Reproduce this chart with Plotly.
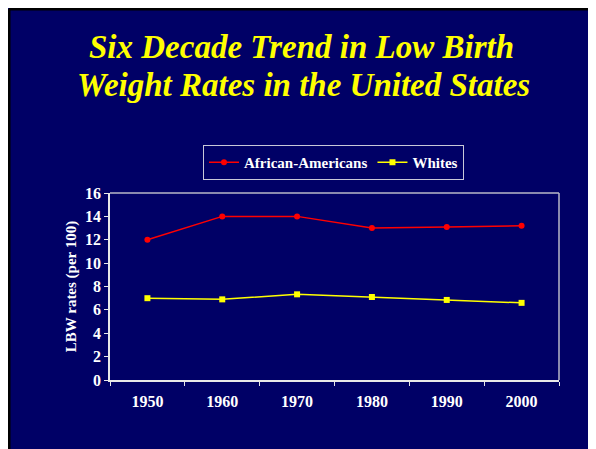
import plotly.graph_objects as go

years = ["1950", "1960", "1970", "1980", "1990", "2000"]
african_americans = [12.0, 14.0, 14.0, 13.0, 13.1, 13.2]
whites = [7.0, 6.9, 7.33, 7.1, 6.85, 6.6]
y_ticks = [0, 2, 4, 6, 8, 10, 12, 14, 16]
title_lines = ["Six Decade Trend in Low Birth", "Weight Rates in the United States"]

NAVY = "#000066"
FONT = "Liberation Serif"

PAGE_W, PAGE_H = 596, 449
OFF = 8  # page body margin
W, H = PAGE_W - OFF, PAGE_H - OFF
L, R, T, B = 110 - OFF, PAGE_W - 559, 193 - OFF, PAGE_H - 380
pw, ph = W - L - R, H - T - B


def px_x(p):  # page pixel -> paper x
    return (p - OFF - L) / pw


def px_y(p):  # page pixel -> paper y
    return (H - B - (p - OFF)) / ph


fig = go.Figure()
fig.add_trace(go.Scatter(
    x=years, y=african_americans, name="African-Americans",
    mode="lines+markers",
    line=dict(color="#ff0000", width=1.5),
    marker=dict(symbol="circle", size=6, color="#ff0000"),
))
fig.add_trace(go.Scatter(
    x=years, y=whites, name="Whites",
    mode="lines+markers",
    line=dict(color="#ffff00", width=1.5),
    marker=dict(symbol="square", size=6, color="#ffff00"),
))

shapes = [
    # black slide edge (top and left only)
    dict(type="line", xref="paper", yref="paper", layer="below",
         x0=px_x(OFF + 1), x1=px_x(700), y0=px_y(OFF + 1), y1=px_y(OFF + 1),
         line=dict(color="black", width=3)),
    dict(type="line", xref="paper", yref="paper", layer="below",
         x0=px_x(OFF + 1), x1=px_x(OFF + 1), y0=px_y(700), y1=px_y(OFF + 1),
         line=dict(color="black", width=3)),
    # top and right plot border
    dict(type="line", xref="paper", yref="paper", x0=0, x1=1, y0=1, y1=1,
         line=dict(color="#b8b8c8", width=1.5)),
    dict(type="line", xref="paper", yref="paper", x0=1, x1=1, y0=0, y1=1,
         line=dict(color="#b8b8c8", width=1.5)),
]

annotations = [
    dict(text="<b><i>%s</i></b>" % title_lines[0], xref="paper", yref="paper",
         x=px_x(301.5), y=px_y(47), xanchor="center", yanchor="middle",
         showarrow=False, font=dict(family=FONT, size=33, color="#ffff00")),
    dict(text="<b><i>%s</i></b>" % title_lines[1], xref="paper", yref="paper",
         x=px_x(303), y=px_y(85), xanchor="center", yanchor="middle",
         showarrow=False, font=dict(family=FONT, size=33, color="#ffff00")),
]

fig.update_layout(
    width=W, height=H,
    margin=dict(l=L, r=R, t=T, b=B, pad=0, autoexpand=False),
    paper_bgcolor=NAVY,
    plot_bgcolor=NAVY,
    shapes=shapes,
    annotations=annotations,
    font=dict(family=FONT, color="white", size=15),
    legend=dict(
        orientation="h",
        x=px_x(333.5), xanchor="center",
        y=px_y(162.5), yanchor="middle",
        bgcolor=NAVY, bordercolor="#c8c8d8", borderwidth=1,
        font=dict(family=FONT, size=15, color="white", weight="bold"),
        itemwidth=30,
    ),
    showlegend=True,
)

fig.update_xaxes(
    type="category", range=[-0.5, 5.5],
    tickson="boundaries", ticks="outside", ticklen=4, tickcolor="#e8e8e8",
    showline=True, linecolor="#e8e8e8", linewidth=1.5,
    showgrid=False, zeroline=False,
    tickfont=dict(family=FONT, size=16, color="white", weight="bold"),
    ticklabelstandoff=6,
)
fig.update_yaxes(
    range=[0, 16], tickvals=y_ticks,
    ticks="outside", ticklen=4, tickcolor="#e8e8e8",
    showline=True, linecolor="#e8e8e8", linewidth=1.5,
    showgrid=False, zeroline=False,
    tickfont=dict(family=FONT, size=16, color="white", weight="bold"),
    title=dict(text="LBW rates (per 100)", standoff=5,
               font=dict(family=FONT, size=15, color="white", weight="bold")),
)

fig.write_html(
    "out.html",
    post_script="document.body.style.overflow='hidden';",
)
